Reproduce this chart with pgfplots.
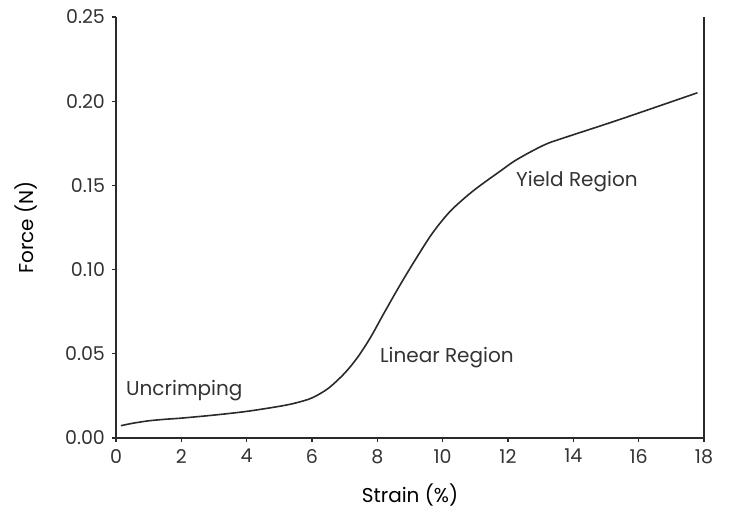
\documentclass[border=0pt]{standalone}
\usepackage{pgfplots}
\pgfplotsset{compat=1.18}
\usepackage{fontspec}
\setmainfont{Poppins}
\definecolor{ink}{HTML}{2A2A2A}
\definecolor{txt}{HTML}{333333}

\begin{document}
\begin{tikzpicture}
\begin{axis}[
    scale only axis,
    width=294pt, height=210.5pt,
    xmin=0, xmax=18, ymin=0, ymax=0.25,
    axis x line*=bottom,
    axis y line*=left,
    xtick={0,2,...,18},
    ytick={0,0.05,...,0.25},
    yticklabel style={/pgf/number format/.cd, fixed, fixed zerofill, precision=2},
    /pgf/number format/assume math mode=true,
    tick align=outside,
    major tick length=2pt,
    tick style={ink, line width=0.6pt},
    axis line style={ink, line width=0.7pt},
    ticklabel style={font=\fontsize{9.5}{11}\selectfont, text=txt},
    label style={font=\fontsize{9}{11}\selectfont, text=txt},
    xlabel={Strain (\%)},
    ylabel={Force (N)},
    every axis x label/.style={at={(axis description cs:0.5,0)}, anchor=center, yshift=-28.5pt},
    every axis y label/.style={at={([xshift=-45pt]axis description cs:0,0.5)}, rotate=90, anchor=center},
    clip=false,
]
\addplot[ink, line width=0.8pt, smooth, tension=0.5] coordinates {
    (0.15,0.0073) (0.5,0.0087) (1,0.0102) (1.5,0.0111) (2,0.0118)
    (3,0.0136) (4,0.0158) (5,0.0188) (5.5,0.0208) (6,0.0238)
    (6.5,0.0295) (7,0.0385) (7.4,0.048) (7.8,0.060) (8.2,0.074)
    (8.7,0.091) (9.2,0.107) (9.7,0.122) (10.25,0.135) (10.95,0.147)
    (11.8,0.159) (12.2,0.1645) (12.7,0.170) (13.2,0.1748) (13.8,0.1788)
    (15.4,0.189) (17.8,0.205)
};
\draw[ink, line width=0.7pt] (axis cs:18,0) -- (axis cs:18,0.25);
\node[anchor=west, inner sep=0pt, text=txt, font=\fontsize{10}{12}\selectfont] at (axis cs:0.3,0.028) {Uncrimping};
\node[anchor=west, inner sep=0pt, text=txt, font=\fontsize{10}{12}\selectfont] at (axis cs:8.07,0.0475) {Linear Region};
\node[anchor=west, inner sep=0pt, text=txt, font=\fontsize{10}{12}\selectfont] at (axis cs:12.24,0.152) {Yield Region};
\end{axis}
\path ([xshift=-58pt,yshift=-36pt]current axis.south west) rectangle ([xshift=12.5pt,yshift=8.5pt]current axis.north east);
\end{tikzpicture}
\end{document}
